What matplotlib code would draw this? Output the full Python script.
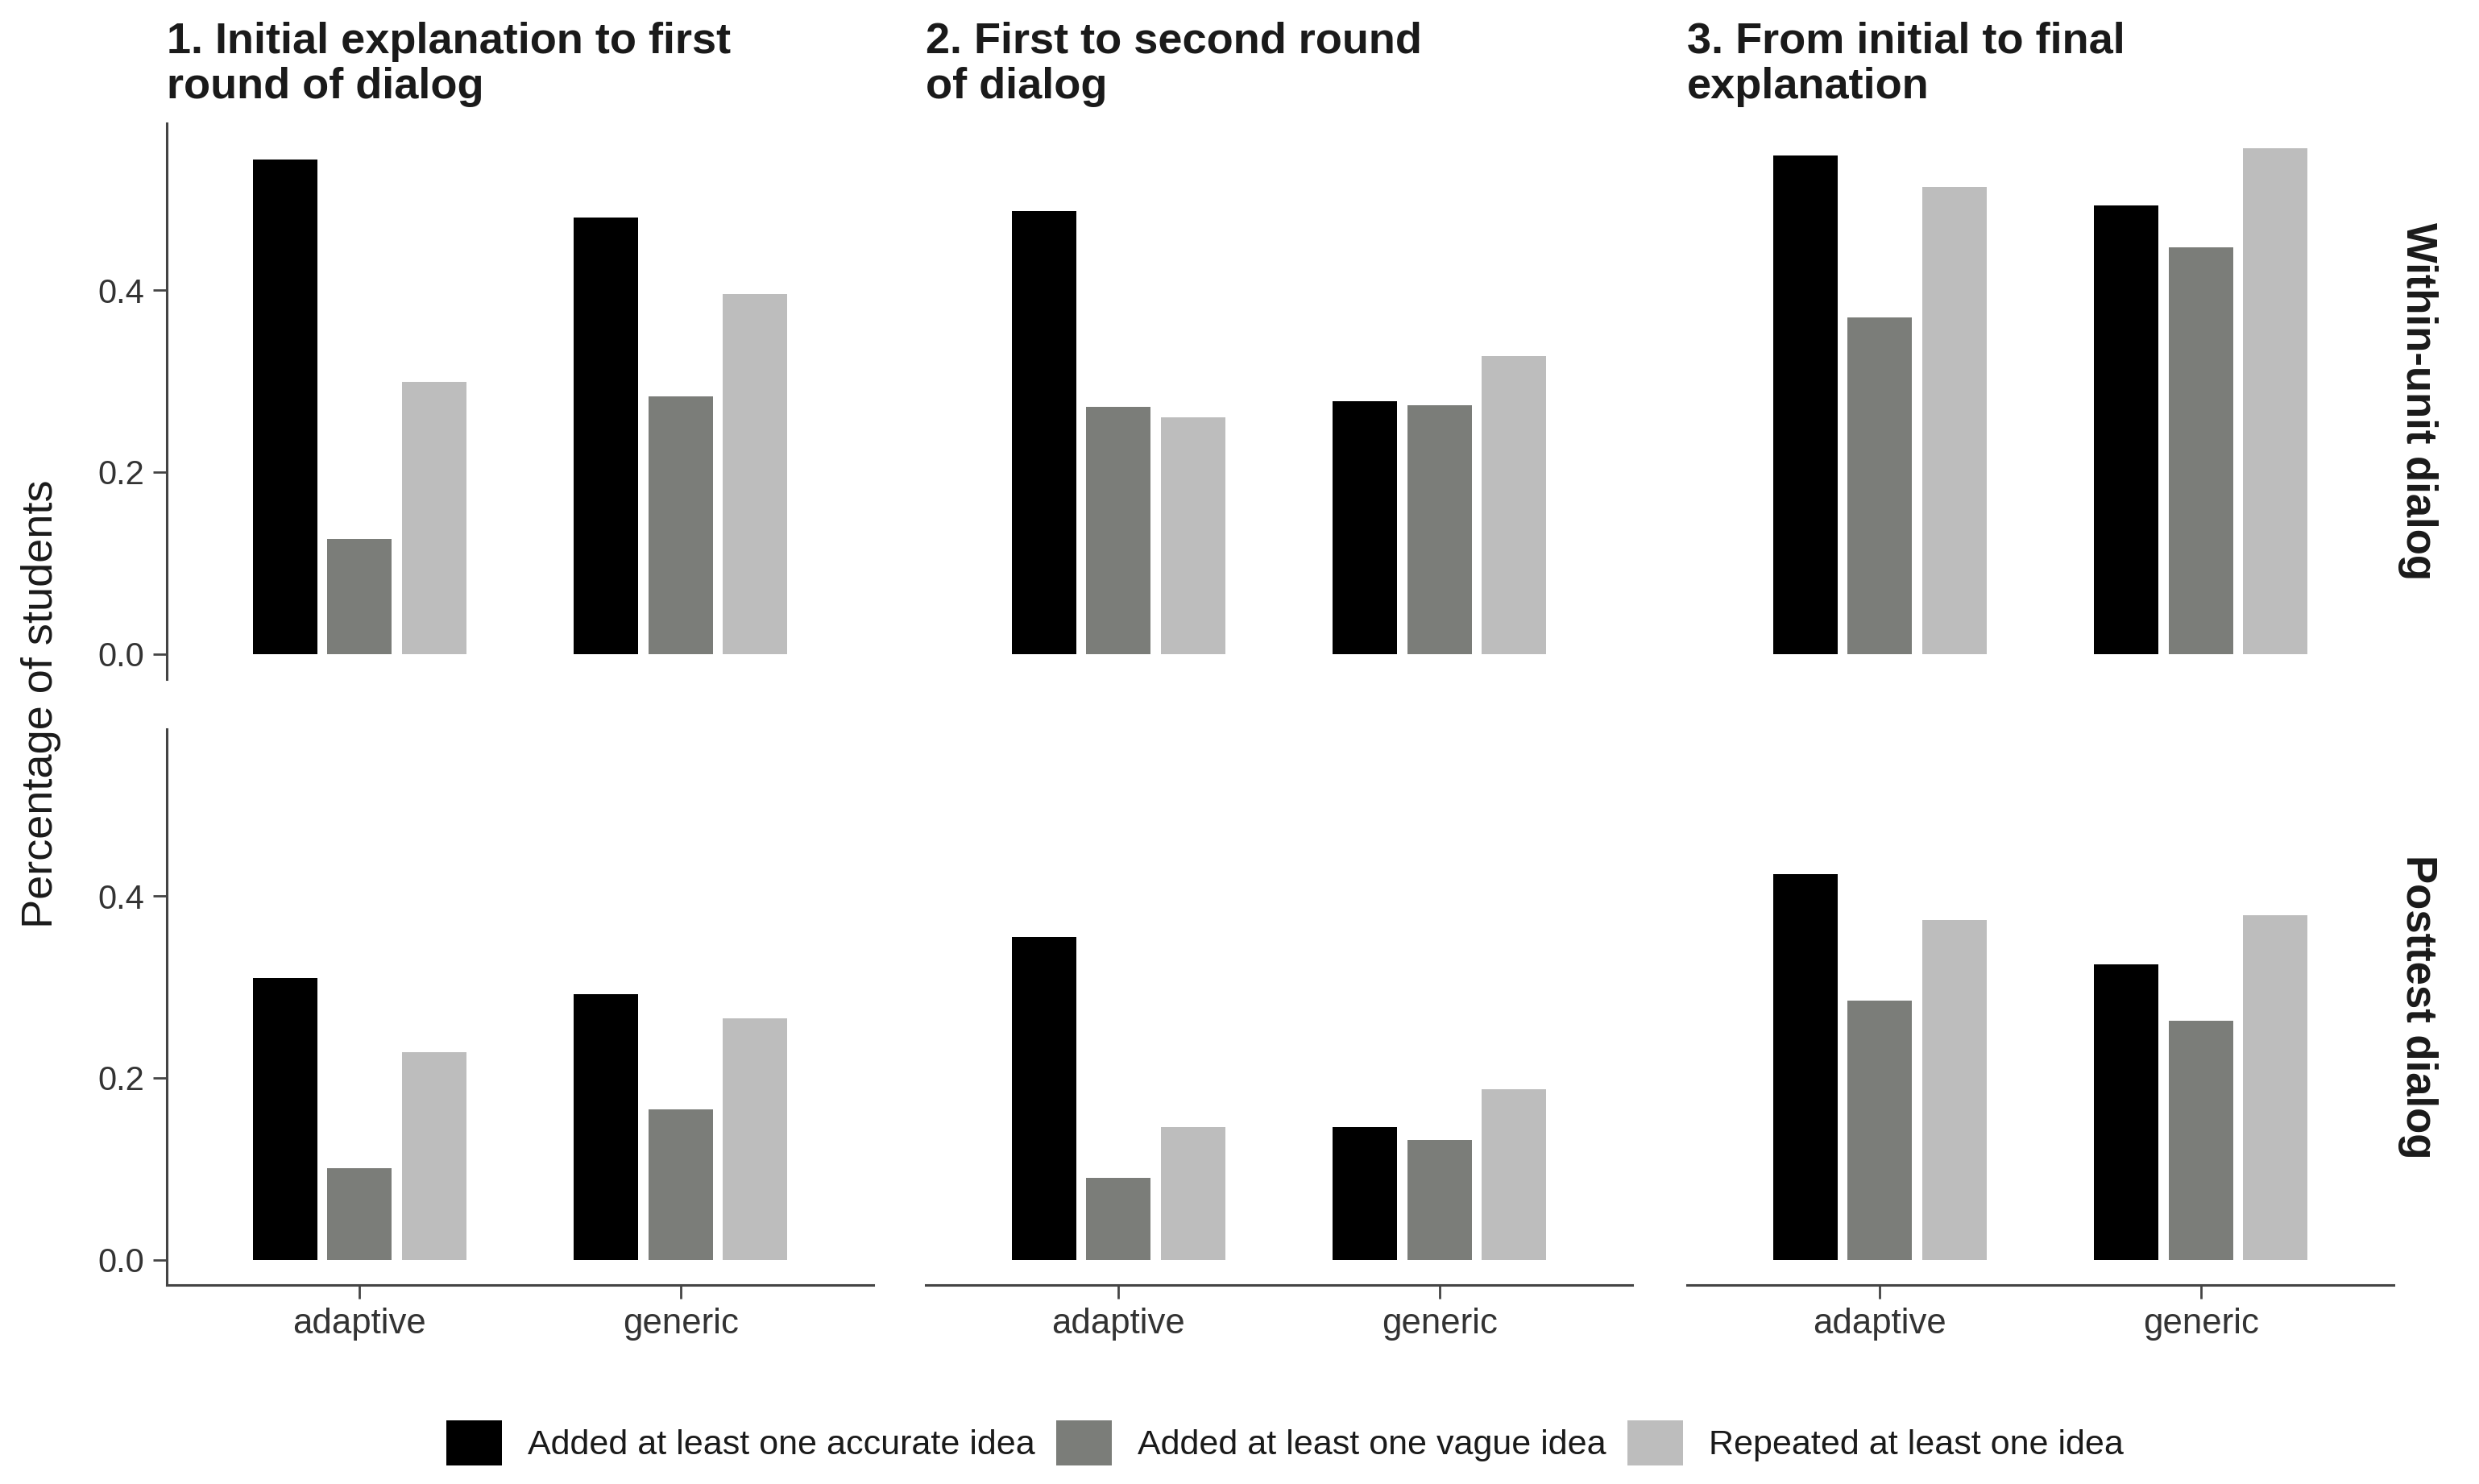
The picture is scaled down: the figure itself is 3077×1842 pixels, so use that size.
import matplotlib
matplotlib.use("Agg")
import matplotlib.pyplot as plt
from matplotlib.patches import Patch
import numpy as np

plt.rcParams['font.family'] = ['Liberation Sans', 'DejaVu Sans']

# ---- data ----
conditions = ["adaptive", "generic"]
categories = ["Added at least one accurate idea",
              "Added at least one vague idea",
              "Repeated at least one idea"]
panel_titles = ["1. Initial explanation to first\nround of dialog",
                "2. First to second round\nof dialog",
                "3. From initial to final\nexplanation"]
row_labels = ["Within-unit dialog", "Posttest dialog"]

# values[row][panel][condition] = [accurate, vague, repeated]
within_p1_adaptive = [0.544, 0.126, 0.299]
within_p1_generic = [0.480, 0.283, 0.396]
within_p2_adaptive = [0.487, 0.272, 0.260]
within_p2_generic = [0.278, 0.274, 0.328]
within_p3_adaptive = [0.548, 0.370, 0.514]
within_p3_generic = [0.493, 0.447, 0.556]

post_p1_adaptive = [0.310, 0.101, 0.228]
post_p1_generic = [0.292, 0.165, 0.266]
post_p2_adaptive = [0.355, 0.090, 0.146]
post_p2_generic = [0.146, 0.132, 0.188]
post_p3_adaptive = [0.424, 0.285, 0.374]
post_p3_generic = [0.325, 0.263, 0.379]

values = [
    [[within_p1_adaptive, within_p1_generic],
     [within_p2_adaptive, within_p2_generic],
     [within_p3_adaptive, within_p3_generic]],
    [[post_p1_adaptive, post_p1_generic],
     [post_p2_adaptive, post_p2_generic],
     [post_p3_adaptive, post_p3_generic]],
]

colors = ["#000000", "#7b7d79", "#bdbdbd"]

W, H = 3077, 1842
fig = plt.figure(figsize=(W / 100, H / 100), dpi=100)

col_left = [207, 1149, 2094]
col_w = 877
row_top = [153, 905]
row_h = 690

all_vals = [v for r in values for p in r for c in p for v in c]
vmax = max(all_vals)
ylo, yhi = -0.05 * vmax, 1.05 * vmax

axis_col = "#444444"
offsets = [-0.232, 0.0, 0.232]
bar_w = 0.2

for r in range(2):
    for c in range(3):
        left = col_left[c] / W
        bottom = 1 - (row_top[r] + row_h) / H
        ax = fig.add_axes([left, bottom, col_w / W, row_h / H])
        x = np.arange(1, len(conditions) + 1)
        for k in range(3):
            heights = [values[r][c][j][k] for j in range(len(conditions))]
            ax.bar(x + offsets[k], heights, width=bar_w, color=colors[k],
                   linewidth=0)
        ax.set_xlim(0.4, 2.6)
        ax.set_ylim(ylo, yhi)
        for s in ["top", "right"]:
            ax.spines[s].set_visible(False)
        ax.spines["left"].set_visible(c == 0)
        ax.spines["bottom"].set_visible(r == 1)
        for s in ["left", "bottom"]:
            ax.spines[s].set_color(axis_col)
            ax.spines[s].set_linewidth(2.2)
        ax.set_yticks([0.0, 0.2, 0.4])
        ax.set_yticklabels(["0.0", "0.2", "0.4"])
        ax.set_xticks(x)
        ax.set_xticklabels(conditions)
        ax.tick_params(axis="both", colors=axis_col, labelcolor="#333333",
                       length=12, width=2.0, pad=8)
        ax.tick_params(axis="y", labelsize=30)
        ax.tick_params(axis="x", labelsize=31.5)
        if c != 0:
            ax.tick_params(axis="y", left=False, labelleft=False)
        if r != 1:
            ax.tick_params(axis="x", bottom=False, labelbottom=False)
        ax.set_facecolor("white")
        if r == 0:
            ax.text(0.0, 1.0 + 126 / row_h, panel_titles[c], transform=ax.transAxes,
                    ha="left", va="top", fontsize=39, fontweight="bold",
                    linespacing=1.15, color="#1a1a1a")
        if c == 2:
            ax.text(1.0 + 30 / col_w, 0.5, row_labels[r], transform=ax.transAxes,
                    rotation=-90, ha="center", va="center", fontsize=38,
                    fontweight="bold", color="#1a1a1a")

fig.text(51 / W, 1 - 874 / H, "Percentage of students", rotation=90,
         ha="center", va="center", fontsize=39, color="#1a1a1a")

handles = [Patch(facecolor=col, edgecolor="none") for col in colors]
fig.legend(handles, categories, loc="center", ncol=3,
           bbox_to_anchor=(1595 / W, 1 - 1791 / H), frameon=False,
           fontsize=31, handlelength=1.6, handleheight=1.6,
           handletextpad=0.75, columnspacing=0.6, labelcolor="#1a1a1a")

fig.savefig("out.png", dpi=100, facecolor="white")
